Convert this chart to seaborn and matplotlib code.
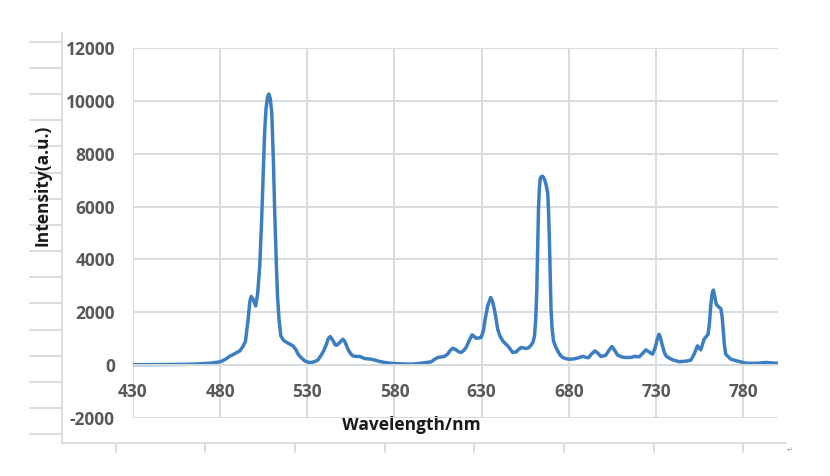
import numpy as np
import pandas as pd
import matplotlib
matplotlib.use("Agg")
import matplotlib.pyplot as plt
from matplotlib.lines import Line2D
import seaborn as sns

# spectrum
wavelength = [
    430, 440, 450, 460, 465, 470, 475, 480, 483, 485.6, 488, 491.3, 493, 494.5,
    496, 497, 497.8, 498.8, 500.4, 501.5, 502.7, 503.8, 504.6, 505.5, 506.3,
    507.2, 507.9, 508.7, 509.6, 510.5, 511.3, 512.2, 512.9, 513.8, 514.8, 516.5,
    518, 520, 521.8, 523.5, 524.7, 526.5, 528.5, 530.5, 532.3, 534, 536, 538,
    539.5, 541, 542, 543.2, 544.5, 546, 547, 548.5, 550.4, 551.5, 553.3, 555,
    556.2, 558, 560, 562.9, 566.7, 571.5, 575, 579, 586.8, 590, 594.4, 598, 601,
    603, 604.9, 606.8, 608.7, 610.5, 612, 613.5, 615, 617, 618.2, 619.8, 621.1,
    622.8, 624.5, 625.5, 626.8, 628.5, 629.7, 631, 632, 633.5, 635.2, 636.3,
    637.3, 638.3, 639.2, 640.5, 642.1, 643.5, 645, 646.5, 647.8, 649.8, 651,
    652.6, 654, 655.5, 657, 658.4, 659.5, 660.3, 661, 661.6, 662.1, 662.6, 663.1,
    663.7, 664.4, 665, 665.7, 666.4, 667.2, 667.9, 668.4, 668.9, 669.4, 669.8,
    670.4, 671.2, 672.4, 673.6, 675, 676.5, 678.5, 680.3, 682, 684.1, 686, 688,
    690, 691.3, 693, 695, 696.7, 698.4, 700, 701.3, 703, 704.7, 706.3, 708, 710,
    711.8, 715.6, 717.5, 720.4, 722.3, 724.2, 726, 728, 729.5, 730.8, 731.8,
    732.7, 733.7, 735, 736, 739.5, 743.3, 747.1, 750, 751.9, 753.8, 755.7, 757.6,
    759.9, 760.7, 761.4, 762.2, 762.9, 763.7, 764.6, 766, 767.2, 768, 768.5,
    769.2, 770, 772.9, 777.6, 781.5, 785, 789.2, 793, 796, 798.7, 800,
]
intensity = [
    20, 20, 25, 30, 40, 55, 80, 125, 220, 340, 420, 540, 700, 900,
    1700, 2400, 2600, 2500, 2240, 2700, 3750, 5500, 7000, 8800, 9700,
    10150, 10260, 10100, 9550, 7800, 5770, 3900, 2600, 1700, 1100, 930,
    870, 790, 730, 580, 415, 280, 160, 110, 100, 130, 190, 380,
    560, 800, 1000, 1080, 950, 770, 755, 850, 980, 900, 600, 420,
    350, 330, 330, 250, 225, 140, 95, 65, 40, 40, 65, 100, 125,
    220, 290, 310, 330, 420, 560, 640, 590, 500, 480, 560, 670,
    920, 1145, 1100, 1020, 1030, 1045, 1300, 1735, 2250, 2560, 2400,
    2110, 1735, 1360, 1100, 920, 820, 730, 600, 480, 500, 580,
    670, 650, 630, 660, 755, 880, 1100, 1700, 2745, 4300, 5890, 6700,
    7085, 7140, 7145, 7080, 6960, 6750, 6520, 5800, 4630, 3300, 2110,
    1400, 920, 700, 540, 380, 290, 240, 225, 230, 250, 290, 330,
    290, 280, 420, 540, 450, 330, 350, 380, 560, 705, 560, 380, 320,
    290, 290, 330, 315, 440, 580, 500, 415, 650, 1000, 1170,
    1000, 730, 450, 330, 200, 130, 150, 190, 415, 730, 580, 980,
    1170, 1600, 2240, 2700, 2840, 2600, 2300, 2200, 2140, 1800, 1360,
    800, 415, 225, 140, 75, 70, 75, 100, 85, 75, 75,
]

x_ticks = [430, 480, 530, 580, 630, 680, 730, 780]
y_ticks = [-2000, 0, 2000, 4000, 6000, 8000, 10000, 12000]

df = pd.DataFrame({"wavelength": wavelength, "intensity": intensity})

sns.set_theme(style="white")
plt.rcParams["font.family"] = ["Open Sans", "DejaVu Sans"]

grid_col = "#d6dcde"
line_col = "#3c7ec0"
label_col = "#595959"

fig = plt.figure(figsize=(8.3, 4.76), dpi=100)
ax = fig.add_axes([133 / 830, 1 - 418 / 476, 645 / 830, 370 / 476])

sns.lineplot(data=df, x="wavelength", y="intensity", ax=ax, color=line_col,
             linewidth=2.5, sort=False)

ax.set_xlim(430, 800)
ax.set_ylim(-2000, 12000)
ax.set_xticks(x_ticks)
ax.set_yticks(y_ticks)
ax.set_xticklabels([str(v) for v in x_ticks])
ax.set_yticklabels([str(v) for v in y_ticks])
ax.grid(True, color=grid_col, linewidth=1.4)
ax.set_axisbelow(True)

for s in ["top", "right", "left"]:
    ax.spines[s].set_visible(False)
# x axis crosses at zero, like the excel chart
ax.spines["bottom"].set_position(("data", 0))
ax.spines["bottom"].set_color(grid_col)
ax.spines["bottom"].set_linewidth(1.4)

ax.tick_params(axis="x", length=0, pad=13, labelsize=12.5, labelcolor=label_col)
ax.tick_params(axis="y", length=0, pad=13, labelsize=12.5, labelcolor=label_col)
for t in ax.get_xticklabels() + ax.get_yticklabels():
    t.set_fontweight("bold")

ax.set_xlabel("Wavelength/nm", fontsize=12.5, fontweight="bold", color="#1a1a1a", va="center")
ax.set_ylabel("Intensity(a.u.)", fontsize=12.5, fontweight="bold", color="#1a1a1a", va="center")
ax.xaxis.set_label_coords(0.431, -0.019)
ax.yaxis.set_label_coords(-0.141, 0.63)


# the frame that surrounds the pasted chart in the document
def px(x, y):
    return x / 830, 1 - y / 476


def frame_line(x0, y0, x1, y1):
    (a, b), (c, d) = px(x0, y0), px(x1, y1)
    fig.add_artist(Line2D([a, c], [b, d], transform=fig.transFigure,
                          color=grid_col, linewidth=1.3, zorder=-1))


frame_line(62, 33, 62, 443)
frame_line(62, 443, 786, 443)
for k in range(16):
    yy = 41.7 + 26.17 * k
    frame_line(30, yy, 62, yy)
for k in range(8):
    xx = 115.7 + 89.66 * k
    frame_line(xx, 443, xx, 452)
fig.text(790 / 830, 1 - 450 / 476, "\u21b5", fontsize=5, color="#9a9a9a",
         family="DejaVu Sans", ha="center", va="center")

fig.savefig("out.png", dpi=100)
